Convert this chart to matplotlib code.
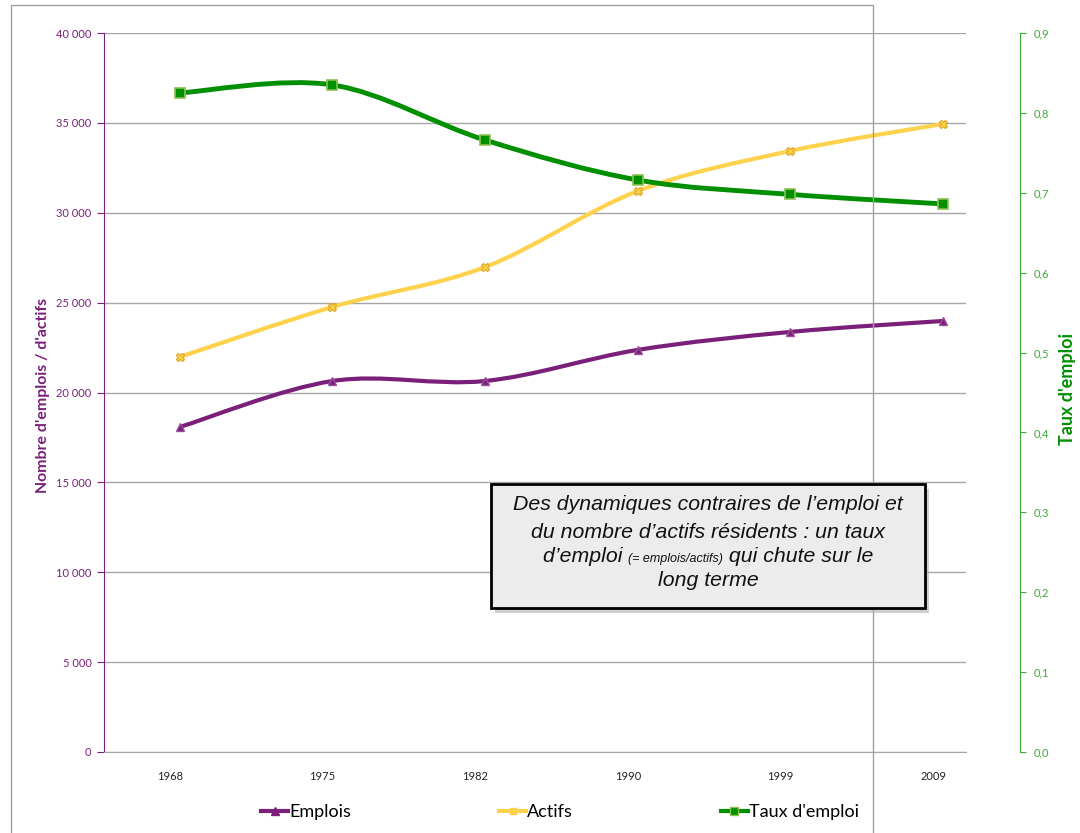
import numpy as np
import matplotlib
matplotlib.use('Agg')
from matplotlib import pyplot as plt
from matplotlib.path import Path
from matplotlib.patches import PathPatch, Rectangle
from matplotlib.lines import Line2D
from matplotlib.transforms import ScaledTranslation

years = ['1968', '1975', '1982', '1990', '1999', '2009']
emplois = [18080, 20640, 20640, 22370, 23370, 23980]
actifs = [21980, 24760, 26980, 31210, 33440, 34940]
taux = [0.825, 0.835, 0.766, 0.716, 0.698, 0.686]

PURPLE = '#7a1f7a'
YELLOW = '#ffd24d'
GREEN = '#008f00'
GREEN_AX = '#3aaa35'

plt.rcParams['font.family'] = ['Lato', 'DejaVu Sans']


def smooth_path(x, y):
    # Bezier segments like a spreadsheet "smoothed line"
    x = np.asarray(x, float)
    y = np.asarray(y, float)
    px = np.concatenate([[x[0]], x, [x[-1]]])
    py = np.concatenate([[y[0]], y, [y[-1]]])
    verts = [(x[0], y[0])]
    codes = [Path.MOVETO]
    for i in range(1, len(x)):
        c1 = (px[i] + (px[i + 1] - px[i - 1]) / 6, py[i] + (py[i + 1] - py[i - 1]) / 6)
        c2 = (px[i + 1] - (px[i + 2] - px[i]) / 6, py[i + 1] - (py[i + 2] - py[i]) / 6)
        verts += [c1, c2, (x[i], y[i])]
        codes += [Path.CURVE4] * 3
    return Path(verts, codes)


fig = plt.figure(figsize=(10.8, 8.33), dpi=100)
ax = fig.add_axes([104 / 1080, 81 / 833, 862 / 1080, 719 / 833])
ax2 = ax.twinx()

xs = np.arange(len(years))

ax.add_patch(PathPatch(smooth_path(xs, emplois), fill=False, ec=PURPLE, lw=3, zorder=3))
ax.plot(xs, emplois, ls='none', marker='^', ms=6, color=PURPLE, mec='#9b4f9b', zorder=4)
ax.add_patch(PathPatch(smooth_path(xs, actifs), fill=False, ec=YELLOW, lw=3, zorder=3))
ax.plot(xs, actifs, ls='none', marker='X', ms=6, color=YELLOW, mec='#e0b030', zorder=4)
ax2.add_patch(PathPatch(smooth_path(xs, taux), fill=False, ec=GREEN, lw=3.5, zorder=3))
ax2.plot(xs, taux, ls='none', marker='s', ms=7, color=GREEN, mec='#8cc152', mew=1.2, zorder=4)

ax.set_xlim(-76 / 153, 5 + 23 / 153)
ax.set_ylim(0, 40000)
ax2.set_ylim(0, 0.9)

ax.set_yticks(np.arange(0, 40001, 5000))
ax.set_yticklabels([f'{v:,}'.replace(',', ' ') for v in range(0, 40001, 5000)])
ax.grid(axis='y', color='#a6a6a6', lw=1)
ax.set_axisbelow(True)
ax.set_xticks(xs)
ax.set_xticklabels(years)
ax.tick_params(axis='x', length=0, pad=14, labelsize=8, labelcolor='#222222')
ax.tick_params(axis='y', direction='out', length=5, color=PURPLE, labelcolor=PURPLE, labelsize=8, pad=4)
shift = ScaledTranslation(-10 / 100, 0, fig.dpi_scale_trans)
for lab in ax.get_xticklabels():
    lab.set_transform(lab.get_transform() + shift)

for s in ['top', 'right']:
    ax.spines[s].set_visible(False)
ax.spines['left'].set_color(PURPLE)
ax.spines['bottom'].set_color('#a6a6a6')

ax2.set_yticks(np.arange(0, 0.91, 0.1))
ax2.set_yticklabels([f'{v:.1f}'.replace('.', ',') for v in np.arange(0, 0.91, 0.1)])
for s in ['top', 'left', 'bottom']:
    ax2.spines[s].set_visible(False)
ax2.spines['right'].set_position(('outward', 39))
ax2.spines['right'].set_color(GREEN_AX)
ax2.tick_params(axis='y', direction='out', length=4, color=GREEN_AX, labelcolor=GREEN_AX, labelsize=8, pad=6)

fig.text(43 / 1080, (833 - 395) / 833, "Nombre d'emplois / d'actifs", rotation=90, ha='center', va='center',
         color=PURPLE, fontsize=11.4, fontweight='bold')
fig.text(1067 / 1080, (833 - 389) / 833, "Taux d'emploi", rotation=90, ha='center', va='center',
         color=GREEN, fontsize=13, fontweight='bold')

# outer chart frame
fig.patches.append(Rectangle((11 / 1080, -0.01), 862 / 1080, 0.01 + 828 / 833, transform=fig.transFigure,
                             fill=False, ec='#a0a0a0', lw=1))

# legend
handles = [
    Line2D([], [], color=PURPLE, lw=3, marker='^', ms=6),
    Line2D([], [], color=YELLOW, lw=3, marker='s', ms=5),
    Line2D([], [], color=GREEN, lw=3, marker='s', ms=6, mec='#8cc152'),
]
fig.legend(handles, ['Emplois', 'Actifs', "Taux d'emploi"], loc='center', bbox_to_anchor=(560 / 1080, 21 / 833),
           ncol=3, frameon=False, fontsize=13, handlelength=1.5, handletextpad=0.05, columnspacing=8.2)

# annotation box with shadow
bx0, by0, bw, bh = 491 / 1080, 225 / 833, 434 / 1080, 124 / 833
fig.patches.append(Rectangle((bx0 + 4 / 1080, by0 - 5 / 833), bw, bh, transform=fig.transFigure,
                             fc='#b0b0b0', ec='none', alpha=0.6, zorder=5))
fig.patches.append(Rectangle((bx0, by0), bw, bh, transform=fig.transFigure,
                             fc='#ececec', ec='black', lw=2, zorder=6))

cx = 708 / 1080
txt_kw = dict(family=['Liberation Sans', 'DejaVu Sans'], style='italic', color='#111111', zorder=7)
big = 15.3
fig.text(cx, 328 / 833, "Des dynamiques contraires de l’emploi et", ha='center', va='center', fontsize=big, **txt_kw)
fig.text(cx, 301 / 833, "du nombre d’actifs résidents : un taux", ha='center', va='center', fontsize=big, **txt_kw)
fig.text(cx, 253 / 833, "long terme", ha='center', va='center', fontsize=big, **txt_kw)

parts = [("d’emploi ", big), ("(= emplois/actifs)", 9), (" qui chute sur le", big)]
renderer = fig.canvas.get_renderer()
pieces = []
for s, fs in parts:
    t = fig.text(0, 271 / 833, s, ha='left', va='baseline', fontsize=fs, **txt_kw)
    pieces.append(t)
widths = [t.get_window_extent(renderer).width / fig.bbox.width for t in pieces]
x = cx - sum(widths) / 2
for t, w in zip(pieces, widths):
    t.set_x(x)
    x += w

fig.savefig('out.png', dpi=100)
